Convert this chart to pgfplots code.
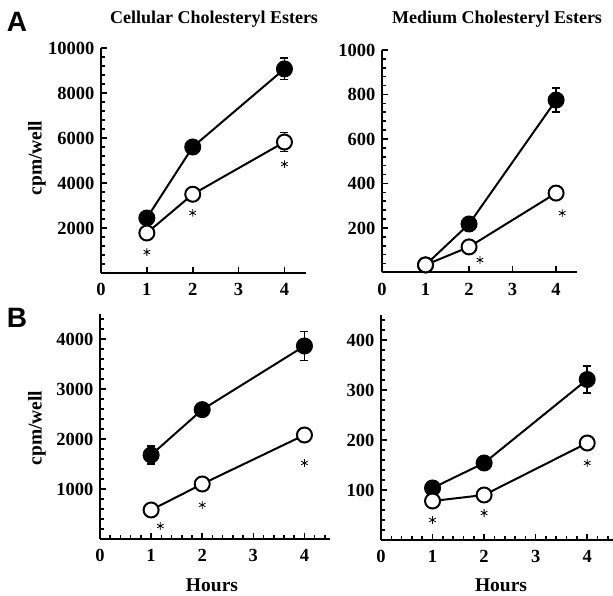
\documentclass[border=0pt]{standalone}
\usepackage{fontspec}
\setmainfont{Liberation Serif}
\newfontfamily\panelfont{Liberation Sans}
\usepackage{pgfplots}
\pgfplotsset{compat=1.18}

\pgfplotsset{
  panel/.style={scale only axis, anchor=south west,
    axis x line*=bottom, axis y line*=left,
    axis line style={line width=2pt,-},
    tick align=inside, major tick length=6pt, minor tick length=3.5pt,
    every tick/.style={line width=1.6pt,black},
    xmin=0, ymin=0, xtick={0,1,2,3,4},
    ticklabel style={font=\bfseries\fontsize{18.5}{18.5}\selectfont},
    xticklabel style={yshift=-7pt},
    yticklabel style={xshift=-3pt},
    /pgf/number format/assume math mode=true,
    /pgf/number format/1000 sep={},
    scaled y ticks=false, clip=false},
  filled/.style={black, line width=2pt, mark=*, mark size=7.5pt, mark options={fill=black}},
  open/.style={black, line width=2pt, mark=*, mark size=7.5pt, mark options={fill=white}},
  errs/.style={draw=none, mark=none, forget plot, error bars/.cd, y dir=both, y explicit,
    error bar style={line width=1.8pt},
    error mark options={rotate=90, mark size=4pt, line width=1.8pt}},
  stars/.style={only marks, mark=asterisk, mark size=3.8pt, black, line width=0.8pt},
}

\begin{document}
\begin{tikzpicture}
\useasboundingbox (0pt,0pt) rectangle (613pt,596pt);

% A, cellular
\begin{axis}[panel, at={(101pt,323pt)}, width=205pt, height=225pt,
  xmax=4.47, ymax=10000, ytick={0,2000,...,10000}, yticklabels={,2000,4000,6000,8000,10000},
  minor ytick={400,800,...,9600}]
\addplot[errs] coordinates {(4,9070) +- (0,470) (4,5820) +- (0,420)};
\addplot[filled] coordinates {(1,2444) (2,5600) (4,9070)};
\addplot[open] coordinates {(1,1778) (2,3500) (4,5820)};
\addplot[stars] coordinates {(1,930) (2,2670) (4,4840)};
\end{axis}

% A, medium
\begin{axis}[panel, at={(382pt,323.5pt)}, width=195pt, height=222.5pt,
  xmax=4.48, ymax=1000, ytick={0,200,...,1000}, yticklabels={,200,400,600,800,1000},
  minor ytick={40,80,...,960}]
\addplot[errs] coordinates {(4,775) +- (0,55)};
\addplot[filled] coordinates {(1,34) (2,218) (4,775)};
\addplot[open] coordinates {(1,34) (2,115) (4,357)};
\addplot[stars] coordinates {(2.25,56) (4.14,267)};
\end{axis}

% B, cellular
\begin{axis}[panel, at={(100pt,57pt)}, width=230pt, height=225pt,
  xmax=4.5, ymax=4500, ytick={0,1000,...,4000}, yticklabels={,1000,2000,3000,4000},
  minor ytick={200,400,...,4400}, minor xtick={0.2,0.4,...,4.41}]
\addplot[errs] coordinates {(1,1680) +- (0,185) (4,3860) +- (0,290)};
\addplot[filled] coordinates {(1,1680) (2,2587) (4,3860)};
\addplot[open] coordinates {(1,580) (2,1100) (4,2080)};
\addplot[stars] coordinates {(1.18,260) (2,680) (4,1520)};
\end{axis}

% B, medium
\begin{axis}[panel, at={(381pt,56pt)}, width=232pt, height=225pt,
  xmax=4.5, ymax=450, ytick={0,100,...,400}, yticklabels={,100,200,300,400},
  minor ytick={20,40,...,440}, minor xtick={0.2,0.4,...,4.41}]
\addplot[errs] coordinates {(4,321) +- (0,27)};
\addplot[filled] coordinates {(1,104) (2,154) (4,321)};
\addplot[open] coordinates {(1,78) (2,90) (4,194)};
\addplot[stars] coordinates {(1,40) (2,54) (4,154)};
\end{axis}

\node[font=\bfseries\fontsize{18}{18}\selectfont] at (214pt,577pt) {Cellular Cholesteryl Esters};
\node[font=\bfseries\fontsize{18}{18}\selectfont] at (497pt,577pt) {Medium Cholesteryl Esters};
\node[font=\bfseries\fontsize{19.5}{19.5}\selectfont, rotate=90] at (37pt,438pt) {cpm/well};
\node[font=\bfseries\fontsize{19.5}{19.5}\selectfont, rotate=90] at (37pt,168pt) {cpm/well};
\node[font=\bfseries\fontsize{19.5}{19.5}\selectfont, inner sep=1pt] at (212pt,11pt) {Hours};
\node[font=\bfseries\fontsize{19.5}{19.5}\selectfont, inner sep=1pt] at (501pt,11pt) {Hours};
\node[font=\panelfont\bfseries\fontsize{28}{28}\selectfont] at (17pt,574pt) {A};
\node[font=\panelfont\bfseries\fontsize{28}{28}\selectfont] at (17pt,278pt) {B};
\end{tikzpicture}
\end{document}
